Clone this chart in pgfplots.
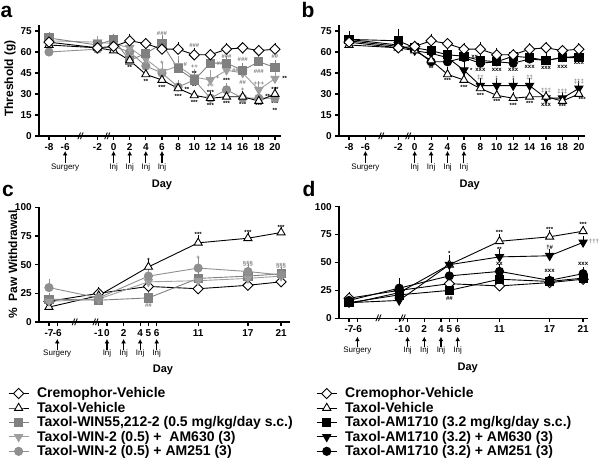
\documentclass[border=0pt]{standalone}
\usepackage{fontspec}
\setmainfont{Liberation Sans}
\usepackage{pgfplots}
\usepackage{pgfplotstable}
\pgfplotsset{compat=1.18}
\usetikzlibrary{arrows.meta}

\definecolor{gsq}{gray}{0.50}
\definecolor{gtd}{gray}{0.62}
\definecolor{gci}{gray}{0.56}

% panel a: von Frey threshold, WIN55,212-2 groups
\pgfplotstableread{
x  cre ce tax te win we w6 w6e w2 w2e
-8 67 2 65 2 70 2 68 2 60 2
-2 63 2 63 2 65 2 67 2 62 2
0  64 2 61 2 69 2 66 3 64 2
2  68 3 54 2 54 3 63 4 60 3
4  66 2 44 3 59 3 55 3 50 3
6  62 2 40 3 66 4 46 5 45 4
8  62 3 34 2 48 4 50 5 35 3
10 58 3 29 2 40 3 42 4 40 3
12 58 2 27 2 52 2 40 5 27 2
14 62 2 28 2 52 3 47 3 33 3
16 63 2 28 2 47 3 45 3 27 2
18 61 2 25 2 53 3 33 4 27 3
20 62 2 30 3 49 3 41 3 27 3
}\tabA
% panel b: AM1710 groups
\pgfplotstableread{
x  cre ce tax te am ae a6 a6e a2 a2e
-8 67 2 65 2 69 4 69 2 68 2
-2 63 2 63 2 68 6 65 2 64 2
0  64 2 61 2 63 3 61 2 62 2
2  68 3 54 2 61 3 59 3 53 2
4  66 2 44 3 58 3 56 3 53 2
6  62 2 40 3 57 3 47 4 56 2
8  62 3 34 2 54 3 36 3 52 2
10 58 3 29 2 53 3 36 3 53 2
12 58 2 27 2 57 3 36 3 52 2
14 62 2 28 2 56 3 36 3 55 2
16 63 2 28 2 54 3 27 2 54 3
18 61 2 25 2 56 3 27 2 56 2
20 62 2 30 3 56 3 34 3 57 2
}\tabB
% panel c: acetone, WIN55,212-2 groups
\pgfplotstableread{
x  cre ce tax te win we w6 w6e w2 w2e
-7 18 3 13 3 20 3 18 3 30 5
-1 25 3 23 5 19 3 20 3 21 3
5  31 2 48 4 21 3 35 3 40 4
11 29 2 69 4 38 4 36 3 47 7
17 32 2 73 3 40 3 38 3 44 4
21 35 2 78 2 42 3 40 3 41 3
}\tabC
% panel d: acetone, AM1710 groups
\pgfplotstableread{
x  cre ce tax te am ae a6 a6e a2 a2e
-7 18 3 13 3 14 3 14 3 16 3
-1 25 3 23 5 21 3 16 3 27 6
5  31 2 48 4 25 3 48 6 38 4
11 29 2 69 4 35 3 55 4 42 4
17 32 2 73 3 33 3 56 3 34 3
21 35 2 78 2 36 3 68 3 40 3
}\tabD

\newcommand{\an}[4][black]{\node[font=\bfseries\fontsize{6}{6}\selectfont, text=#1, inner sep=0pt] at (axis cs:#2,#3) {#4};}
\newcommand{\brk}[1]{\node[font=\bfseries\itshape\fontsize{9}{9}\selectfont, inner sep=0pt] at (axis cs:#1,0) {//};}
\newcommand{\arr}[4]{\draw[-{Latex[length=4.5pt,width=5pt]}, line width=1.1pt] (axis cs:#1,#2) -- (axis cs:#1,#3);
  \node[anchor=north, font=\fontsize{8}{9}\selectfont, inner sep=0pt] at (axis cs:#1,#2) {#4};}

\pgfplotsset{
  gp/.style={scale only axis, axis lines*=left, tick align=outside,
    major tick length=3.8pt, clip=false,
    axis line style={line width=1.4pt},
    every tick/.style={black, line width=1.2pt},
    /pgf/number format/assume math mode=true,
    tick label style={font=\bfseries\fontsize{10}{12}\selectfont},
    legend cell align=left,
    legend image code/.code={\draw[mark repeat=2,mark phase=2] plot coordinates {(0pt,0pt) (10pt,0pt) (20pt,0pt)};}},
  eb/.style={error bars/.cd, y dir=plus, y explicit,
    error bar style={line width=0.8pt}, error mark options={line width=0.8pt, mark size=3pt}},
  cre/.style={black, line width=0.9pt, mark=square*, mark size=3.6pt,
    mark options={rotate=45, fill=white, draw=black, line width=0.9pt}},
  tax/.style={black, line width=0.9pt, mark=triangle*, mark size=4.7pt,
    mark options={fill=white, draw=black, line width=0.9pt}},
  sq/.style={#1, line width=0.9pt, mark=square*, mark size=4.1pt, mark options={fill=#1, draw=#1}},
  td/.style={#1, line width=0.9pt, mark=triangle*, mark size=4.7pt, mark options={rotate=180, fill=#1, draw=#1}},
  ci/.style={#1, line width=0.9pt, mark=*, mark size=4.1pt, mark options={fill=#1, draw=#1}},
  lg/.style={legend style={at={#1}, anchor=north west, draw=none, fill=none, inner sep=0pt,
    font=\bfseries\fontsize{14}{15}\selectfont, row sep=-1.2pt,
    /tikz/every odd column/.append style={column sep=6pt}}},
}

\begin{document}
\begin{tikzpicture}[x=1pt,y=1pt]
\path[use as bounding box] (0pt,0pt) rectangle (600pt,464pt);

% ---------- a ----------
\begin{axis}[gp, at={(39pt,328pt)}, anchor=south west, width=241.6pt, height=110.6pt,
  xmin=-9.24, xmax=20.7, ymin=0, ymax=79,
  xtick={-8,-6,-2,0,2,4,6,8,10,12,14,16,18,20}, ytick={0,15,30,45,60,75}]
\addplot[ci=gci, eb] table[x=x, y=w2, y error=w2e] {\tabA};
\addplot[td=gtd, eb] table[x=x, y=w6, y error=w6e] {\tabA};
\addplot[sq=gsq, eb] table[x=x, y=win, y error=we] {\tabA};
\addplot[tax, eb] table[x=x, y=tax, y error=te] {\tabA};
\addplot[cre, eb] table[x=x, y=cre, y error=ce] {\tabA};
\brk{-4.1} \brk{-0.8}
\arr{-6}{-19.5}{-10.7}{Surgery}
\arr{0}{-19.5}{-10.7}{Inj} \arr{2}{-19.5}{-10.7}{Inj} \arr{4}{-19.5}{-10.7}{Inj} \arr{6}{-19.5}{-10.7}{Inj}
\node[font=\bfseries\fontsize{11}{12}\selectfont] at (axis cs:6,-35) {Day};
\node[rotate=90, font=\bfseries\fontsize{12}{13}\selectfont] at (axis description cs:-0.12,0.52) {Threshold (g)};
\an{2}{49}{**} \an{4}{39}{**}
\an[gsq]{6}{73}{\#\#\#} \an[gsq]{6}{52}{+} \an{6}{35}{***}
\an[gsq]{8.9}{51}{\#} \an{9.1}{33}{**} \an{8}{28.5}{***}
\an[gsq]{10}{65}{\#\#\#} \an[gsq]{10}{49.3}{++} \an{10}{44.5}{**} \an{10}{35.5}{**} \an{10}{24}{***}
\an[gsq]{13.4}{52}{\#\#\#} \an[gsq]{12.9}{41.5}{+} \an[gsq]{12}{35.8}{++} \an{12}{31}{***} \an{12}{22}{***}
\an[gsq]{14}{57}{\#\#\#} \an[gsq]{15.1}{46.5}{\#\#} \an{14}{40}{***} \an{14}{23}{***}
\an[gsq]{16}{58.5}{*} \an[gsq]{16}{54.5}{\#\#\#} \an[gsq]{16}{38.5}{\#\#} \an[gsq]{16}{33}{+} \an{16}{22.5}{***}
\an[gsq]{18}{46}{\#\#\#} \an[gsq]{18}{37}{+++} \an{18}{33}{***} \an{19.1}{28}{**} \an{18}{21.5}{***}
\an[gsq]{20}{56.5}{\#\#} \an{21.2}{41}{**} \an{20}{33.3}{***} \an{20}{23}{***} \an{20}{18.5}{**}
\end{axis}

% ---------- b ----------
\begin{axis}[gp, at={(339pt,328pt)}, anchor=south west, width=245.6pt, height=110.6pt,
  xmin=-9.22, xmax=20.7, ymin=0, ymax=79,
  xtick={-8,-6,-2,0,2,4,6,8,10,12,14,16,18,20}, ytick={0,15,30,45,60,75}]
\addplot[ci=black, eb] table[x=x, y=a2, y error=a2e] {\tabB};
\addplot[td=black, eb] table[x=x, y=a6, y error=a6e] {\tabB};
\addplot[sq=black, eb] table[x=x, y=am, y error=ae] {\tabB};
\addplot[tax, eb] table[x=x, y=tax, y error=te] {\tabB};
\addplot[cre, eb] table[x=x, y=cre, y error=ce] {\tabB};
\brk{-4.1} \brk{-0.8}
\arr{-6}{-19.5}{-10.7}{Surgery}
\arr{0}{-19.5}{-10.7}{Inj} \arr{2}{-19.5}{-10.7}{Inj} \arr{4}{-19.5}{-10.7}{Inj} \arr{6}{-19.5}{-10.7}{Inj}
\node[font=\bfseries\fontsize{11}{12}\selectfont] at (axis cs:6.7,-35) {Day};
\an{2}{48.5}{**} \an{4}{40}{***}
\an{7.3}{56.5}{xx} \an{6.9}{46.5}{*} \an{6}{34.5}{***}
\an{8}{47}{xxx} \an[gray]{8}{41.5}{‡‡} \an{8}{29}{***}
\an{10}{47.5}{xxx} \an[gray]{10}{41}{‡} \an{10}{25}{***}
\an{12}{47.5}{xxx} \an[gray]{12}{41}{‡} \an{12}{21.5}{***}
\an{14}{49.5}{xxx} \an[gray]{14}{41.5}{‡‡} \an{14}{23.5}{***}
\an{16}{48.5}{xxx} \an[gray]{16}{32.5}{‡‡‡} \an{16}{22}{xxx}
\an{18}{49}{xxx} \an[gray]{18}{32}{‡‡‡} \an{18}{21}{***}
\an{20}{52.5}{xxx} \an[gray]{20}{39}{‡‡‡} \an{20.4}{26}{***}
\end{axis}

% ---------- c ----------
\begin{axis}[gp, at={(39pt,142pt)}, anchor=south west, width=251.2pt, height=115.3pt,
  xmin=-8.2, xmax=22.1, ymin=0, ymax=100.5,
  xtick={-7,-6,-1,0,2,4,5,6,11,17,21}, ytick={0,25,50,75,100},
  lg={(axis description cs:-0.1235,-0.551)}]
\addplot[cre, eb] table[x=x, y=cre, y error=ce] {\tabC};
\addplot[tax, eb] table[x=x, y=tax, y error=te] {\tabC};
\addplot[sq=gsq, eb] table[x=x, y=win, y error=we] {\tabC};
\addplot[td=gtd, eb] table[x=x, y=w6, y error=w6e] {\tabC};
\addplot[ci=gci, eb] table[x=x, y=w2, y error=w2e] {\tabC};
\legend{Cremophor-Vehicle, Taxol-Vehicle, {Taxol-WIN55,212-2 (0.5 mg/kg/day s.c.)}, Taxol-WIN-2 (0.5) +\ \ AM630 (3), Taxol-WIN-2 (0.5) + AM251 (3)}
\brk{-3.9} \brk{-1.4}
\arr{-6}{-24.4}{-14.8}{Surgery}
\arr{0}{-24.4}{-14.8}{Inj} \arr{2}{-24.4}{-14.8}{Inj} \arr{4}{-24.4}{-14.8}{Inj} \arr{6}{-24.4}{-14.8}{Inj}
\node[font=\bfseries\fontsize{11}{12}\selectfont] at (axis cs:6.75,-41.8) {Day};
\node[rotate=90, font=\bfseries\fontsize{12}{13}\selectfont] at (axis description cs:-0.104,0.50) {\%\ \ Paw Withdrawal};
\an{5}{53.5}{*} \an[gsq]{5}{14}{\#\#}
\an{11}{76}{***} \an[gray]{11}{56}{+}
\an{17}{78.5}{***} \an[gray]{17}{50.5}{§§§}
\an{21}{82.5}{***} \an[gray]{21}{49}{§§§}
\end{axis}

% ---------- d ----------
\begin{axis}[gp, at={(339pt,145.7pt)}, anchor=south west, width=249.1pt, height=112.2pt,
  xmin=-8.2, xmax=21.6, ymin=0, ymax=100.5,
  xtick={-7,-6,-1,0,2,4,5,6,11,17,21}, ytick={0,25,50,75,100},
  lg={(axis description cs:-0.092,-0.599)}]
\addplot[cre, eb] table[x=x, y=cre, y error=ce] {\tabD};
\addplot[tax, eb] table[x=x, y=tax, y error=te] {\tabD};
\addplot[sq=black, eb] table[x=x, y=am, y error=ae] {\tabD};
\addplot[td=black, eb] table[x=x, y=a6, y error=a6e] {\tabD};
\addplot[ci=black, eb] table[x=x, y=a2, y error=a2e] {\tabD};
\legend{Cremophor-Vehicle, Taxol-Vehicle, {Taxol-AM1710 (3.2 mg/kg/day s.c.)}, Taxol-AM1710 (3.2) + AM630 (3), Taxol-AM1710 (3.2) + AM251 (3)}
\brk{-3.5} \brk{-0.6}
\arr{-6}{-25.4}{-16.5}{Surgery}
\arr{0}{-25.4}{-16.5}{Inj} \arr{2}{-25.4}{-16.5}{Inj} \arr{4}{-25.4}{-16.5}{Inj} \arr{6}{-25.4}{-16.5}{Inj}
\node[font=\bfseries\fontsize{11}{12}\selectfont] at (axis cs:7.2,-44.8) {Day};
\an{5}{58}{*} \an{5}{18}{\#\#}
\an{11}{77}{***} \an{11}{62}{**} \an{11}{48.5}{xx}
\an{17}{80}{***} \an{17}{63.5}{†\#} \an{17}{42.5}{xxx}
\an{21}{84}{***} \an[gray]{22.3}{68.5}{†††} \an{21}{48.5}{xxx}
\end{axis}

\node[font=\bfseries\fontsize{21}{22}\selectfont, anchor=base, inner sep=0pt] at (6.5pt,446pt) {a};
\node[font=\bfseries\fontsize{21}{22}\selectfont, anchor=base, inner sep=0pt] at (308pt,446pt) {b};
\node[font=\bfseries\fontsize{21}{22}\selectfont, anchor=base, inner sep=0pt] at (8pt,267.5pt) {c};
\node[font=\bfseries\fontsize{21}{22}\selectfont, anchor=base, inner sep=0pt] at (309pt,267.5pt) {d};
\end{tikzpicture}
\end{document}
